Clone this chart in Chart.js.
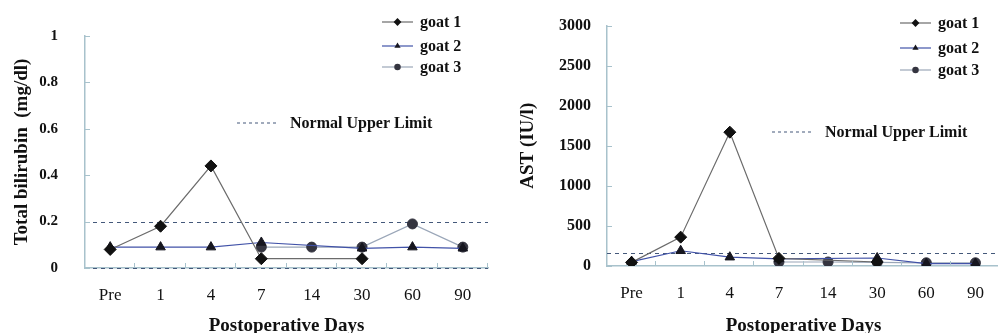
<!DOCTYPE html>
<html lang="en">
<head>
<meta charset="UTF-8">
<title>Postoperative bilirubin and AST</title>
<script src="https://cdn.jsdelivr.net/npm/chart.js"></script>
<style>
  html, body { margin: 0; background: #fff; overflow: hidden; width: 998px; height: 333px; }
  .panel { position: absolute; top: 0; height: 333px; }
  #leftPanel { left: 0; width: 499px; }
  #rightPanel { left: 499px; width: 508px; }
</style>
</head>
<body>
<div class="panel" id="leftPanel"><canvas id="biliChart" width="499" height="333"></canvas></div>
<div class="panel" id="rightPanel"><canvas id="astChart" width="508" height="333"></canvas></div>
<script>
// categories
const days = ['Pre', '1', '4', '7', '14', '30', '60', '90'];
const goatNames = ['goat 1', 'goat 2', 'goat 3'];

// total bilirubin (mg/dl)
const biliGoat1 = [0.08, 0.18, 0.44, 0.04, null, 0.04, null, null];
const biliGoat2 = [0.09, 0.09, 0.09, 0.11, null, 0.085, 0.09, 0.085];
const biliGoat3 = [null, null, null, 0.09, 0.09, 0.09, 0.19, 0.09];
const biliLimit = 0.2;

// AST (IU/l)
const astGoat1 = [45, 360, 1670, 95, null, 50, null, null];
const astGoat2 = [55, 190, 110, 90, null, 100, 30, 30];
const astGoat3 = [null, null, null, 50, 50, 45, 40, 40];
const astLimit = 160;

const serif = "'Liberation Serif', 'Times New Roman', serif";
const axisColor = '#a8c2cc';
const lineColors = ['#6b6b6b', '#4152a8', '#9aa6b8'];
const markerColors = ['#111111', '#16161f', '#34343f'];
const markerStyles = ['rectRot', 'triangle', 'circle'];
const markerSizes = [6, 5.5, 5];

function drawMarker(ctx, style, x, y, r) {
    ctx.beginPath();
    if (style === 'rectRot') {
        ctx.moveTo(x, y - r); ctx.lineTo(x + r, y); ctx.lineTo(x, y + r); ctx.lineTo(x - r, y);
    } else if (style === 'triangle') {
        ctx.moveTo(x, y - r); ctx.lineTo(x + r * 0.87, y + r * 0.5); ctx.lineTo(x - r * 0.87, y + r * 0.5);
    } else {
        ctx.arc(x, y, r, 0, Math.PI * 2);
    }
    ctx.closePath();
    ctx.fill();
}

// limit lines, inner tick marks, legend and limit key
const overlayPlugin = {
    id: 'overlay',
    beforeDatasetsDraw(chart, args, opts) {
        const ctx = chart.ctx, area = chart.chartArea, ys = chart.scales.y;
        ctx.save();
        ctx.strokeStyle = '#44587a';
        ctx.lineWidth = 1;
        ctx.setLineDash([4, 4]);
        const lines = [opts.limit];
        if (opts.zeroDash) lines.push(0);
        lines.forEach(v => {
            const y = Math.round(ys.getPixelForValue(v)) + 0.5;
            ctx.beginPath();
            ctx.moveTo(area.left, y);
            ctx.lineTo(area.right, y);
            ctx.stroke();
        });
        ctx.restore();
    },
    afterDraw(chart, args, opts) {
        const ctx = chart.ctx, area = chart.chartArea;
        const xs = chart.scales.x, ys = chart.scales.y;
        ctx.save();
        // inner tick marks
        ctx.strokeStyle = axisColor;
        ctx.lineWidth = 1;
        ys.ticks.forEach(t => {
            const y = Math.round(ys.getPixelForValue(t.value)) + 0.5;
            ctx.beginPath(); ctx.moveTo(area.left, y); ctx.lineTo(area.left + 5, y); ctx.stroke();
        });
        for (let i = 0; i < days.length; i++) {
            const x = Math.round(i < days.length - 1
                ? (xs.getPixelForValue(i) + xs.getPixelForValue(i + 1)) / 2
                : area.right) - 0.5;
            ctx.beginPath(); ctx.moveTo(x, area.bottom); ctx.lineTo(x, area.bottom - 5); ctx.stroke();
        }
        // legend
        ctx.font = 'bold 16px ' + serif;
        ctx.textBaseline = 'middle';
        ctx.textAlign = 'left';
        chart.data.datasets.forEach((ds, i) => {
            const y = opts.legendRows[i];
            ctx.strokeStyle = ds.borderColor;
            ctx.lineWidth = 1.2;
            ctx.setLineDash([]);
            ctx.beginPath(); ctx.moveTo(opts.legendX, y); ctx.lineTo(opts.legendX + 31, y); ctx.stroke();
            ctx.fillStyle = markerColors[i];
            drawMarker(ctx, markerStyles[i], opts.legendX + 15.5, y, markerSizes[i] * 0.65);
            ctx.fillStyle = '#111';
            ctx.fillText(ds.label, opts.legendX + 38, y + 1);
        });
        // normal upper limit key
        ctx.strokeStyle = '#44587a';
        ctx.lineWidth = 1;
        ctx.setLineDash([3, 3]);
        ctx.beginPath(); ctx.moveTo(opts.keyX, opts.keyY); ctx.lineTo(opts.keyX + 39, opts.keyY); ctx.stroke();
        ctx.fillStyle = '#111';
        ctx.fillText('Normal Upper Limit', opts.keyX + 53, opts.keyY + 1);
        ctx.restore();
    }
};

function buildChart(id, series, cfg) {
    return new Chart(document.getElementById(id), {
        type: 'line',
        data: {
            labels: days,
            datasets: series.map((vals, i) => ({
                label: goatNames[i],
                data: vals,
                borderColor: lineColors[i],
                borderWidth: 1.2,
                pointStyle: markerStyles[i],
                pointRadius: markerSizes[i],
                pointBackgroundColor: markerColors[i],
                pointBorderColor: markerColors[i],
                pointBorderWidth: 1,
                spanGaps: true,
                tension: 0
            }))
        },
        options: {
            responsive: false,
            animation: false,
            devicePixelRatio: 1,
            layout: { padding: { top: cfg.top, right: cfg.right, left: 0, bottom: 0 } },
            plugins: { legend: { display: false }, tooltip: { enabled: false }, overlay: cfg },
            scales: {
                x: {
                    offset: true,
                    grid: { drawOnChartArea: false, drawTicks: false },
                    border: { color: axisColor, width: 1.5 },
                    ticks: { color: '#111', font: { family: serif, size: 17 }, padding: 17, autoSkip: false, maxRotation: 0 },
                    title: {
                        display: true, text: 'Postoperative Days', color: '#111',
                        font: { family: serif, size: 19, weight: 'bold', lineHeight: 0.7 },
                        padding: { top: 0, bottom: 0 }
                    },
                    afterFit: s => { s.height = cfg.xHeight; }
                },
                y: {
                    min: 0, max: cfg.yMax,
                    grid: { drawOnChartArea: false, drawTicks: false },
                    border: { color: axisColor, width: 1.5 },
                    ticks: {
                        stepSize: cfg.yStep, color: '#111', padding: cfg.yPad,
                        font: { family: serif, size: cfg.yFont, weight: 'bold' },
                        callback: v => String(+v.toFixed(1))
                    },
                    title: {
                        display: true, text: cfg.yTitle, color: '#111',
                        font: { family: serif, size: 19, weight: 'bold', lineHeight: 1 },
                        padding: { top: cfg.yTitlePad, bottom: 0 }
                    },
                    afterFit: s => { s.width = cfg.yWidth; }
                }
            }
        },
        plugins: [overlayPlugin]
    });
}

buildChart('biliChart', [biliGoat1, biliGoat2, biliGoat3], {
    yTitle: 'Total bilirubin  (mg/dl)', yMax: 1, yStep: 0.2, yFont: 15, yPad: 27,
    yWidth: 85, xHeight: 65, top: 21, right: 11, yTitlePad: 12.5,
    limit: biliLimit, zeroDash: true,
    legendX: 382, legendRows: [22, 46, 67], keyX: 237, keyY: 123
});

buildChart('astChart', [astGoat1, astGoat2, astGoat3], {
    yTitle: 'AST (IU/l)', yMax: 3000, yStep: 500, yFont: 16, yPad: 16,
    yWidth: 108, xHeight: 67, top: 17, right: 0, yTitlePad: 19.5,
    limit: astLimit, zeroDash: false,
    legendX: 401, legendRows: [23, 48, 70], keyX: 273, keyY: 132
});
</script>
</body>
</html>
